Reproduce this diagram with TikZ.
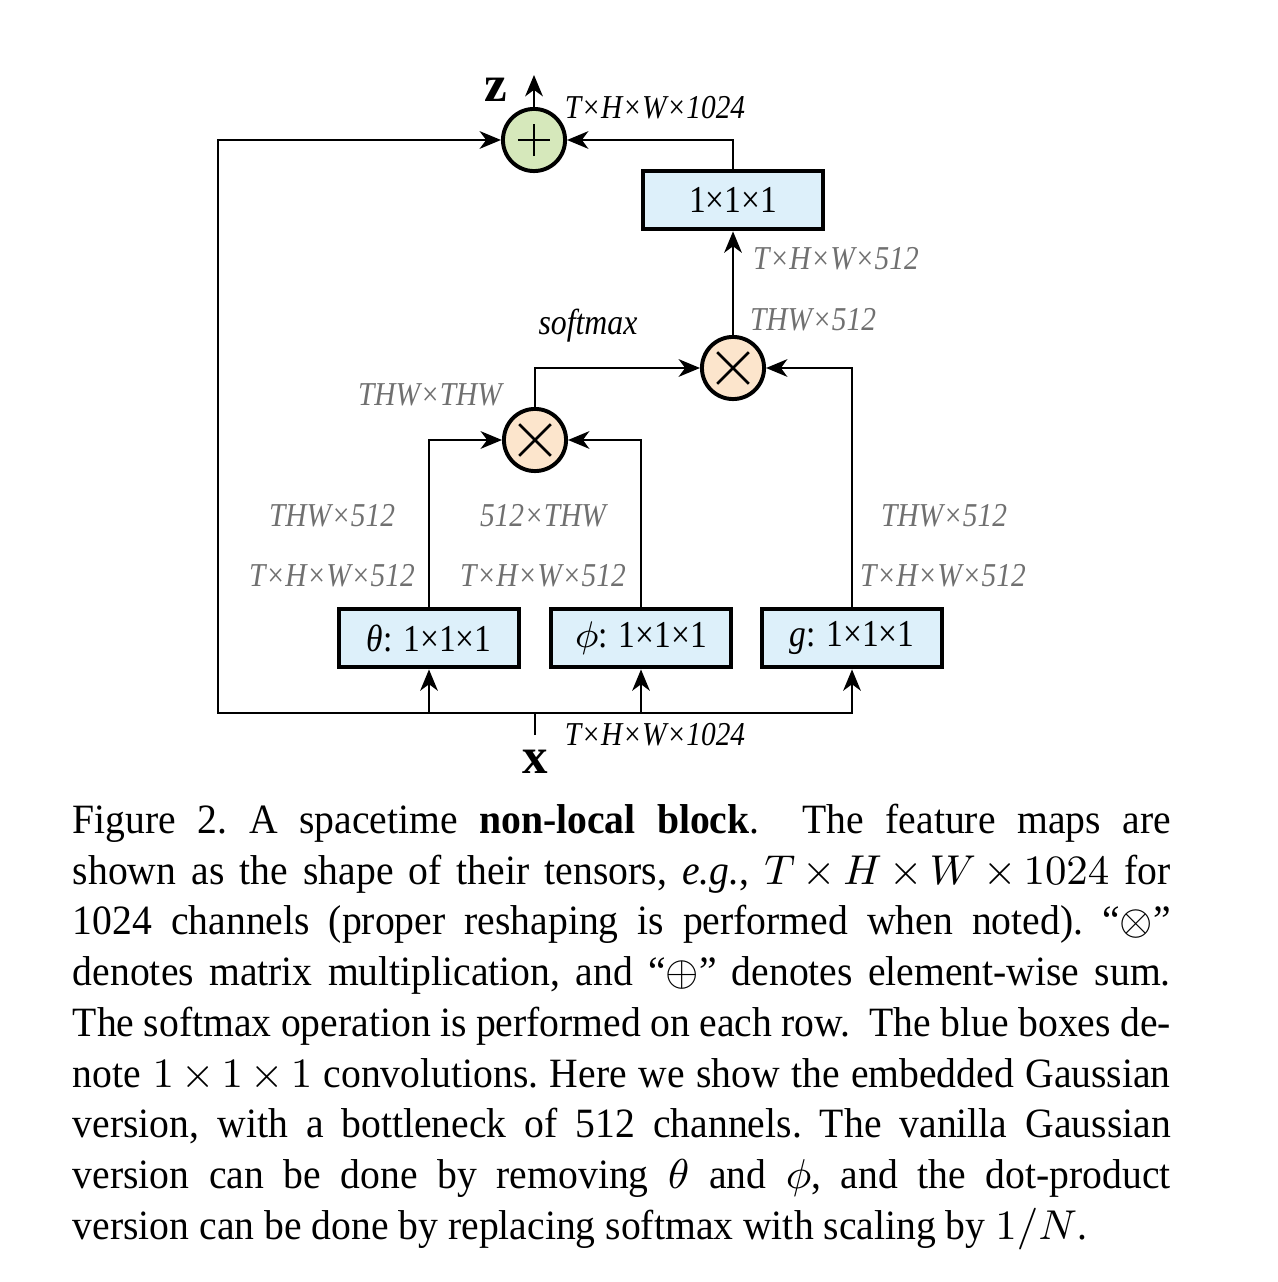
\documentclass[tikz,border=0pt]{standalone}
\usepackage{fontspec}
\setmainfont{Liberation Serif}
\newfontfamily\capfont{Liberation Serif}[Ligatures=TeX,FakeStretch=0.95]
\newfontfamily\labfont{Liberation Serif}[Ligatures=TeX,FakeStretch=0.88]
\usetikzlibrary{arrows.meta}
\definecolor{convblue}{RGB}{221,240,250}
\definecolor{sumgreen}{RGB}{214,232,187}
\definecolor{mulpeach}{RGB}{252,229,204}
\definecolor{labgray}{RGB}{112,112,112}
\begin{document}
\begin{tikzpicture}[x=0.2157pt,y=-0.2157pt,
  conv/.style={draw, fill=convblue, line width=0.85pt, minimum width=39pt, minimum height=12.7pt, inner sep=0pt, font=\labfont\fontsize{8.2}{9}\selectfont},
  opnode/.style={circle, draw, line width=0.85pt, minimum size=13.4pt, inner sep=0pt},
  plusop/.style={opnode, fill=sumgreen, path picture={
     \draw[line width=0.6pt] ([xshift=-3.5pt]path picture bounding box.center) -- ([xshift=3.5pt]path picture bounding box.center);
     \draw[line width=0.6pt] ([yshift=-3.5pt]path picture bounding box.center) -- ([yshift=3.5pt]path picture bounding box.center);}},
  mulop/.style={opnode, fill=mulpeach, path picture={
     \draw[line width=0.6pt] ([shift={(-3.4pt,-3.4pt)}]path picture bounding box.center) -- ([shift={(3.4pt,3.4pt)}]path picture bounding box.center);
     \draw[line width=0.6pt] ([shift={(-3.4pt,3.4pt)}]path picture bounding box.center) -- ([shift={(3.4pt,-3.4pt)}]path picture bounding box.center);}},
  wire/.style={line width=0.55pt},
  arr/.style={wire, -{Stealth[length=4.6pt,width=3.8pt,inset=1.4pt]}},
  dimlab/.style={text=labgray, font=\labfont\fontsize{7.2}{8}\selectfont\itshape, inner sep=0pt},
  blklab/.style={text=black, font=\labfont\fontsize{7.2}{8}\selectfont\itshape, inner sep=0pt},
  vecvar/.style={font=\fontsize{11}{12}\selectfont\bfseries, inner sep=0pt}
]
\useasboundingbox (0,0) rectangle (1278,1282);

% operator nodes
\node[plusop] (plus) at (534,140) {};
\node[mulop] (mul2) at (733,368) {};
\node[mulop] (mul1) at (535,440) {};

% conv boxes
\node[conv] (top) at (733,200) {1×1×1};
\node[conv] (theta) at (429,638) {\textit{θ}: 1×1×1};
\node[conv] (phi) at (641,638) {$\phi$: 1×1×1};
\node[conv] (g) at (852,638) {\textit{g}: 1×1×1};

% coordinates
\coordinate (xin) at (535,735);
\coordinate (xj) at (535,713);
\coordinate (bl) at (218,713);
\coordinate (zout) at (534,75);

% connectors
\draw[wire] (xin) -- (xj);
\draw[arr] (xj) -| (theta);
\draw[arr] (xj) -| (phi);
\draw[arr] (xj) -| (g);
\draw[arr] (xj) -- (bl) |- (plus);
\draw[arr] (theta) |- (mul1);
\draw[arr] (phi) |- (mul1);
\draw[arr] (mul1) |- (mul2);
\draw[arr] (g) |- (mul2);
\draw[arr] (mul2) -- (top);
\draw[arr] (top) |- (plus);
\draw[arr] (plus) -- (zout);

% variable labels
\node[vecvar] (zlab) at (496,90) {z};
\node[vecvar] (xlab) at (535,762) {x};

% dimension labels
\node[blklab] (l1) at (655,108) {T×H×W×1024};
\node[blklab] (l2) at (655,735) {T×H×W×1024};
\node[dimlab] (l3) at (836,259) {T×H×W×512};
\node[dimlab] (l4) at (813,320) {THW×512};
\node[blklab, font=\labfont\fontsize{7.8}{9}\selectfont\itshape] (l5) at (588,326) {softmax};
\node[dimlab] (l6) at (430,395) {THW×THW};
\node[dimlab] (l7) at (332,516) {THW×512};
\node[dimlab] (l8) at (543,516) {512×THW};
\node[dimlab] (l9) at (944,516) {THW×512};
\node[dimlab] (l10) at (332,576) {T×H×W×512};
\node[dimlab] (l11) at (543,576) {T×H×W×512};
\node[dimlab] (l12) at (943,576) {T×H×W×512};

% caption
\node[anchor=north west, inner sep=0pt, text width=236.8pt, align=justify,
      font=\capfont\fontsize{9}{10.95}\selectfont] (cap) at (72,803)
{\hyphenpenalty=10000\tolerance=10000\frenchspacing
\medmuskip=3mu plus 0mu minus 2mu
Figure 2. A spacetime \textbf{non-local block}.\ \ The feature maps are\linebreak
shown as the shape of their tensors, \textit{e.g.}, $T\times H\times W\times 1024$ for\linebreak
1024 channels (proper reshaping is performed when noted). ``$\otimes$''\linebreak
denotes matrix multiplication, and ``$\oplus$'' denotes element-wise sum.\linebreak
The softmax operation is performed on each row.\ \ The blue boxes de-\linebreak
note $1\times1\times1$ convolutions. Here we show the embedded Gaussian\linebreak
version, with a bottleneck of 512 channels. The vanilla Gaussian\linebreak
version can be done by removing $\theta$ and $\phi$, and the dot-product\linebreak
version can be done by replacing softmax with scaling by $1/N$.};
\end{tikzpicture}
\end{document}
